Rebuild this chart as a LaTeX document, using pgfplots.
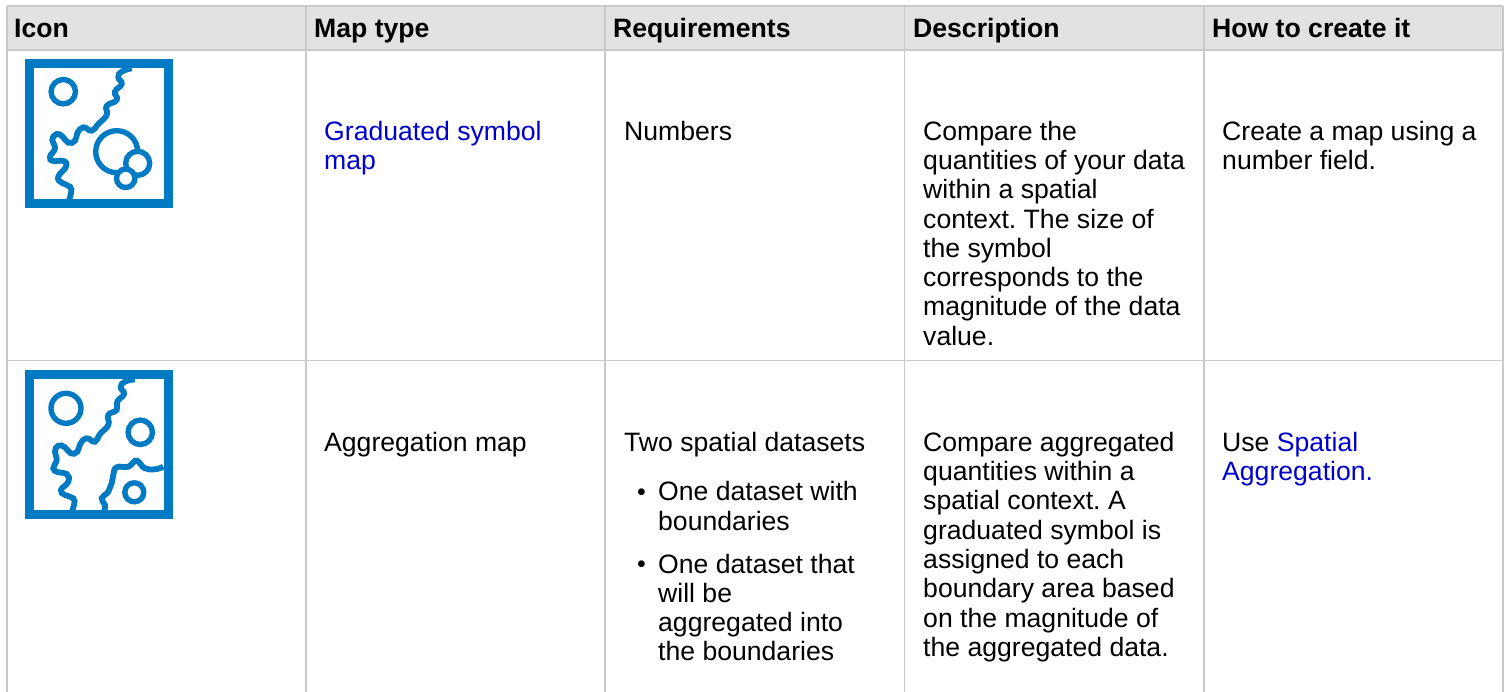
\documentclass[border=0pt]{standalone}
\usepackage{pgfplots}
\pgfplotsset{compat=1.18}
\usepackage{fontspec}
\setmainfont{Liberation Sans}
\frenchspacing
\definecolor{grid}{HTML}{C9C9C9}
\definecolor{head}{HTML}{E2E2E2}
\definecolor{iconblue}{HTML}{007AC2}
\definecolor{linkblue}{HTML}{0000CC}
\newcommand{\T}[3]{\node[anchor=base west,inner sep=0pt,text=black] at (axis cs:#1,#2) {\fontsize{26.6}{29}\selectfont #3};}
\newcommand{\Tb}[3]{\node[anchor=base west,inner sep=0pt,text=black] at (axis cs:#1,#2) {\fontsize{26.6}{29}\selectfont\bfseries #3};}
\newcommand{\Tl}[3]{\node[anchor=base west,inner sep=0pt,text=linkblue] at (axis cs:#1,#2) {\fontsize{26.6}{29}\selectfont #3};}
\newcommand{\Bul}[2]{\node[anchor=base west,inner sep=0pt,text=black] at (axis cs:#1,#2) {\fontsize{25}{25}\selectfont •};}
\begin{document}
\begin{tikzpicture}
\begin{axis}[
  scale only axis, width=1509pt, height=692pt,
  xmin=0, xmax=1509, ymin=0, ymax=692, y dir=reverse,
  hide axis, clip=true,
  every axis plot/.append style={forget plot}
]
% background
\addplot[draw=none, fill=white] coordinates {(0,0)(1509,0)(1509,692)(0,692)} -- cycle;
\addplot[draw=none, fill=head] coordinates {(6.7,6)(1502.7,6)(1502.7,50)(6.7,50)} -- cycle;
% rules
\pgfplotsset{rule/.style={draw=grid, line width=1.6pt, no marks}}
\addplot[rule] coordinates {(6.7,6)(1502.7,6)};
\addplot[rule] coordinates {(6.7,50)(1502.7,50)};
\addplot[rule] coordinates {(6.7,360.5)(1502.7,360.5)};
\addplot[rule] coordinates {(6.7,6)(6.7,692)};
\addplot[rule] coordinates {(306,6)(306,692)};
\addplot[rule] coordinates {(605,6)(605,692)};
\addplot[rule] coordinates {(904.3,6)(904.3,692)};
\addplot[rule] coordinates {(1203.7,6)(1203.7,692)};
\addplot[rule] coordinates {(1502.7,6)(1502.7,692)};
% icon 1
\addplot[draw=iconblue, line width=9.3pt, no marks] coordinates {(29.7,63.7)(168.3,63.7)(168.3,203.3)(29.7,203.3)} -- cycle;
\addplot[draw=iconblue, line width=5.8pt, no marks, smooth, tension=0.85] coordinates {
(131.7,68.3)(121.7,71.7)(118.3,77.3)(121.7,84)(115,91.7)(116.7,100)(106.7,106)(106.7,115)(98.3,124)(91.7,130.7)(83.3,127.3)(77.3,133.3)(75,140.7)(68.3,142.7)(62.7,136.7)(56.7,134)(52.3,140)(55,148.3)(50,156.7)(53.3,161)(63.3,161)(66,166.7)(58.3,176.7)(61.7,182.7)(70,186.7)(71,193.3)(69,200)};
\pgfplotsset{ring/.style={only marks, mark=*, mark options={draw=iconblue, fill=white, line width=5.4pt}}}
\addplot[ring, mark size=12.2pt] coordinates {(63.3,91.7)};
\addplot[ring, mark size=21pt] coordinates {(116.7,151.7)};
\addplot[ring, mark size=12pt] coordinates {(137.7,163.3)};
\addplot[ring, mark size=9.2pt] coordinates {(125.7,178.3)};
% icon 2
\addplot[draw=iconblue, line width=9.3pt, no marks] coordinates {(29.7,374.7)(168.3,374.7)(168.3,514.3)(29.7,514.3)} -- cycle;
\addplot[draw=iconblue, line width=5.8pt, no marks, smooth, tension=0.85] coordinates {
(135,379.3)(125,381.7)(120.7,387.3)(124,394)(117.3,401.7)(116.7,410)(108.3,415)(108.3,425)(100,434)(95,441.7)(86.7,438.3)(80.7,443.3)(77.3,451.7)(70.7,453.3)(65,447.3)(58.3,445.7)(55,451.7)(56.7,460)(53.3,468.3)(58.3,472.3)(66.7,474)(68.3,481.7)(61,490)(65,495)(73.3,498.3)(74,505)(71.7,511.7)};
\addplot[draw=iconblue, line width=5.8pt, no marks, smooth, tension=0.85] coordinates {
(163.3,466.7)(155,469.3)(145,468.3)(140,463.3)(135,460.7)(128.3,466.7)(116.7,467.3)(113.3,475)(111.7,483.3)(108.3,491.7)(101.7,498.3)(105,505)(104,511.7)};
\addplot[ring, mark size=15pt] coordinates {(66,408.3)};
\addplot[ring, mark size=12.2pt] coordinates {(140.3,432.3)};
\addplot[ring, mark size=9.5pt] coordinates {(134.3,492.3)};
% header
\Tb{14}{37.2}{Icon}
\Tb{314}{37.2}{Map type}
\Tb{613}{37.2}{Requirements}
\Tb{913}{37.2}{Description}
\Tb{1212}{37.2}{How to create it}
% row 1
\Tl{324}{140.4}{Graduated symbol}
\Tl{324}{169.3}{map}
\T{624}{140.4}{Numbers}
\T{923}{140.4}{Compare the}
\T{923}{169.3}{quantities of your data}
\T{923}{198.7}{within a spatial}
\T{923}{228.3}{context. The size of}
\T{923}{257.3}{the symbol}
\T{923}{286.7}{corresponds to the}
\T{923}{316}{magnitude of the data}
\T{923}{345.3}{value.}
\T{1222}{140.4}{Create a map using a}
\T{1222}{169.3}{number field.}
% row 2
\T{324}{451}{Aggregation map}
\T{624}{451}{Two spatial datasets}
\Bul{637}{500}
\T{658}{500.3}{One dataset with}
\T{658}{530.3}{boundaries}
\Bul{637}{572.7}
\T{658}{573}{One dataset that}
\T{658}{602.3}{will be}
\T{658}{631.3}{aggregated into}
\T{658}{660.3}{the boundaries}
\T{923}{451}{Compare aggregated}
\T{923}{480.3}{quantities within a}
\T{923}{509.7}{spatial context. A}
\T{923}{539}{graduated symbol is}
\T{923}{568.3}{assigned to each}
\T{923}{597.7}{boundary area based}
\T{923}{627}{on the magnitude of}
\T{923}{656.3}{the aggregated data.}
\T{1222}{451}{Use \textcolor{linkblue}{Spatial}}
\Tl{1222}{480.3}{Aggregation.}
\end{axis}
\end{tikzpicture}
\end{document}
